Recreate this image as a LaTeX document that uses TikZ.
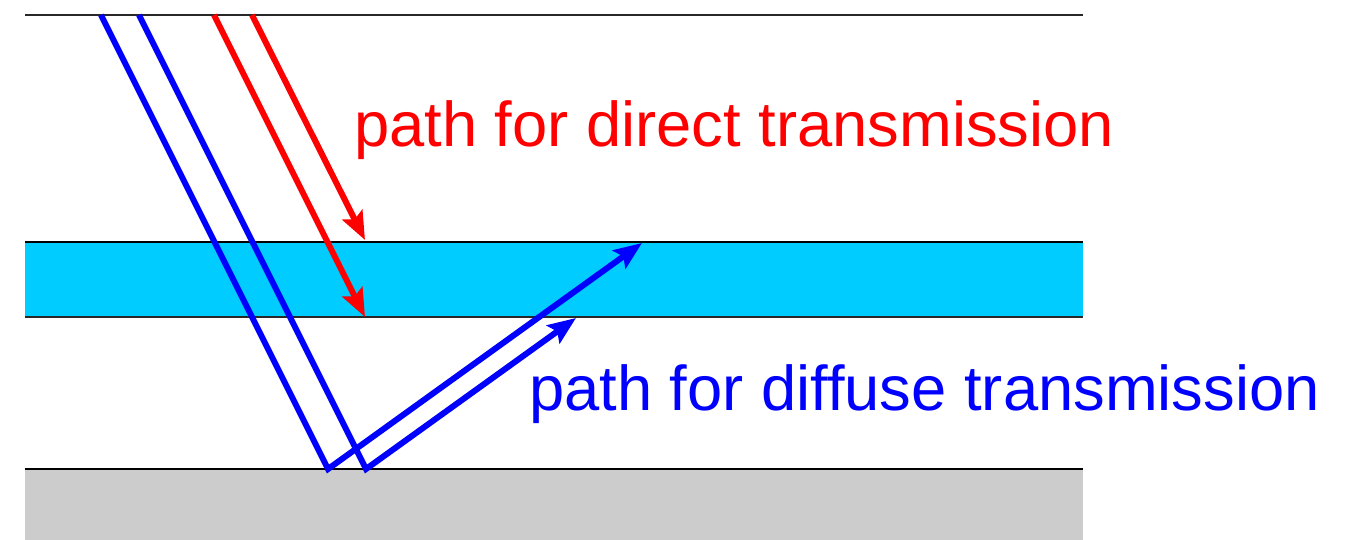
\documentclass[tikz,border=0pt]{standalone}
\usepackage{fontspec}
\setmainfont{Liberation Sans}
\usetikzlibrary{arrows.meta}
\definecolor{layercyan}{RGB}{0,204,255}
\definecolor{groundgray}{RGB}{204,204,204}
\definecolor{edgegray}{RGB}{40,40,40}
\tikzset{
  ray/.style={line width=6pt, line join=miter,
    -{Stealth[length=28pt, width=22pt, inset=5pt]}},
  edge/.style={line width=1.3pt, draw=edgegray},
  label/.style={inner sep=0pt, anchor=base west,
    font=\fontsize{63.3}{76}\selectfont},
}
\begin{document}
\begin{tikzpicture}[x=1pt, y=-1pt]
  \useasboundingbox (0,0) rectangle (1352,540);

  % ground below
  \fill[groundgray] (25,469) rectangle (1083,540);
  \draw[edge, draw=black] (25,469) -- (1083,469);

  % cyan layer
  \fill[layercyan] (25,242) rectangle (1083,317);
  \draw[edge, draw=black] (25,242) -- (1083,242);
  \draw[edge] (25,317) -- (1083,317);

  % top boundary
  \draw[edge] (25,15) -- (1083,15);

  % direct transmission rays
  \coordinate (r1s) at (214,15);
  \coordinate (r1e) at (365,317);
  \coordinate (r2s) at (252,15);
  \coordinate (r2e) at (365,240);
  \draw[ray, red] (r1s) -- (r1e);
  \draw[ray, red] (r2s) -- (r2e);

  % diffuse transmission rays, reflected at the ground
  \coordinate (b1s) at (101,15);
  \coordinate (b1m) at (328,469);
  \coordinate (b1e) at (642,243);
  \coordinate (b2s) at (139,15);
  \coordinate (b2m) at (366,469);
  \coordinate (b2e) at (576,318);
  \draw[ray, blue] (b1s) -- (b1m) -- (b1e);
  \draw[ray, blue] (b2s) -- (b2m) -- (b2e);

  % labels
  \node[label, text=red] (ldirect) at (354,147) {path for direct transmission};
  \node[label, text=blue] (ldiffuse) at (529,410) {path for diffuse transmission};
\end{tikzpicture}
\end{document}
